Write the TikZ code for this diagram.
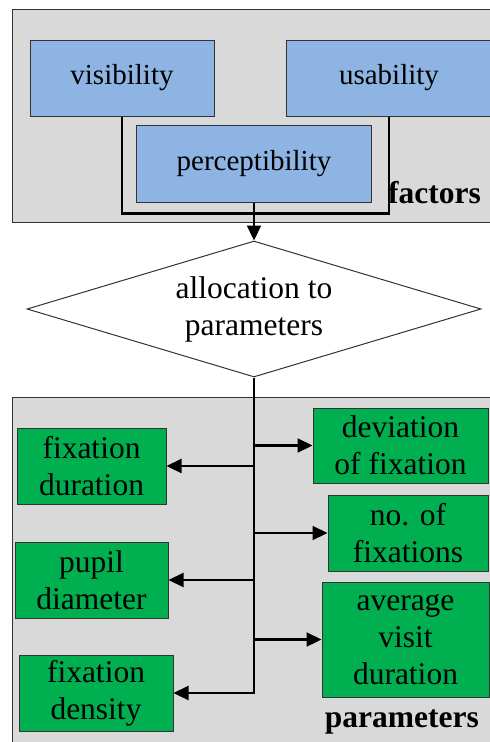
\documentclass[tikz,border=0pt]{standalone}
\usepackage{fontspec}
\setmainfont{Liberation Serif}
\usetikzlibrary{shapes.geometric,arrows.meta}
\definecolor{panelgray}{RGB}{217,217,217}
\definecolor{factorblue}{RGB}{142,180,227}
\definecolor{paramgreen}{RGB}{0,176,80}
\tikzstyle{panel}=[draw=black!80,fill=panelgray,line width=1pt]
\tikzstyle{factor}=[rectangle,draw=black!80,fill=factorblue,line width=1pt,minimum height=76pt,inner sep=0pt,font=\fontsize{29}{34}\selectfont]
\tikzstyle{param}=[rectangle,draw=black!80,fill=paramgreen,line width=1pt,minimum height=76pt,inner sep=0pt,align=center,font=\fontsize{31.5}{37}\selectfont]
\tikzstyle{decision}=[diamond,aspect=3.34,draw=black!80,fill=white,line width=1pt,inner sep=0pt,minimum width=454pt,minimum height=136pt,align=center,font=\fontsize{31.5}{37}\selectfont]
\tikzstyle{caption}=[anchor=base east,inner sep=0pt,font=\bfseries\fontsize{31.5}{37}\selectfont]
\tikzstyle{link}=[line width=2.2pt]
\tikzstyle{pointto}=[-{Triangle[length=15pt,width=14pt]}]

\begin{document}
\begin{tikzpicture}[x=1pt,y=-1pt]
          \clip (0,0) rectangle (490,742);
          \draw[panel] (12.7,9.3) rectangle (500,222.7);
          \draw[panel] (12.7,397) rectangle (500,760);
          \node[factor,minimum width=184pt] (vis) at (122,78) {visibility};
          \node[factor,minimum width=206pt] (use) at (389,78) {usability};
          \node[factor,minimum width=235pt,minimum height=77pt] (perc) at (254,163.5) {perceptibility};
          \node[caption] (factors) at (481,203) {factors};
          \node[decision] (alloc) at (254,309) {allocation to\\parameters};
          \node[param,minimum width=149pt] (fdur) at (91.5,466) {fixation\\duration};
          \node[param,minimum width=153pt] (pupil) at (91.5,580) {pupil\\diameter};
          \node[param,minimum width=154pt] (fdens) at (96,693) {fixation\\density};
          \node[param,minimum width=175pt,minimum height=75pt] (dev) at (400.5,445.5) {deviation\\of fixation};
          \node[param,minimum width=160pt] (nfix) at (408,533) {no. of\\fixations};
          \node[param,minimum width=167pt,minimum height=115pt] (avg) at (405.5,639.5) {average\\visit\\duration};
          \node[caption] (params) at (479,727) {parameters};
          \draw[link] (vis.south) -- ++(0,97) -| (use.south);
          \draw[link,pointto] (perc.south) -- (alloc.north);
          \draw[link,pointto] (alloc.south) |- (fdens.east);
          \foreach \p in {fdur,pupil}
            \draw[link,pointto] (alloc.south |- \p) -- (\p.east);
          \foreach \p in {dev,nfix,avg}
            \draw[link,pointto] (alloc.south |- \p) -- (\p.west);
        \end{tikzpicture}
\end{document}
